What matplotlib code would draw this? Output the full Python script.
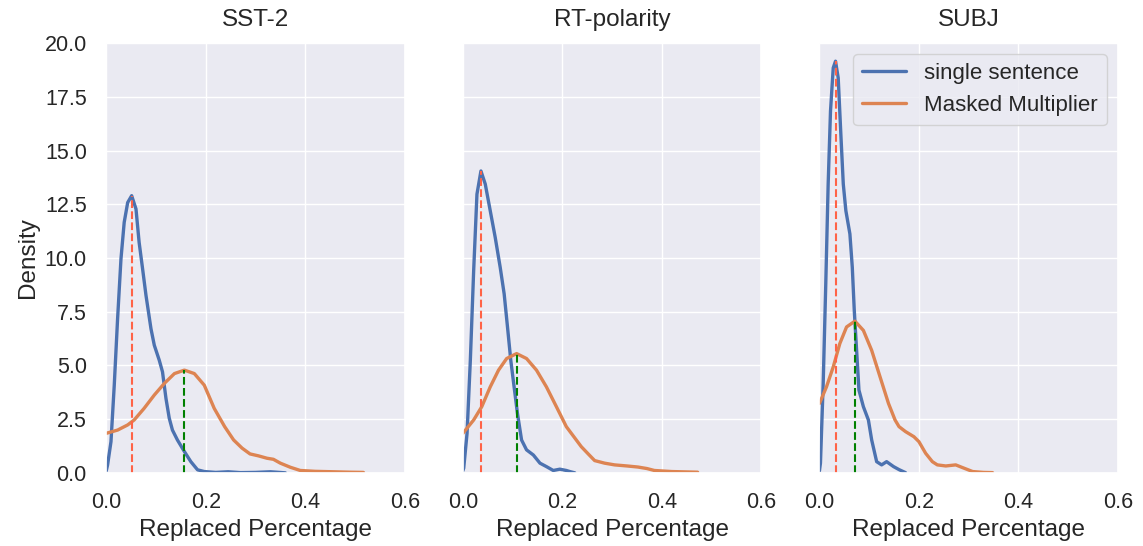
import matplotlib
matplotlib.use("Agg")
import matplotlib.pyplot as plt
import seaborn as sns

sns.set_theme(style="darkgrid")
plt.rcParams['font.family'] = ['Liberation Sans', 'DejaVu Sans']

titles = ['SST-2', 'RT-polarity', 'SUBJ']
labels = ['single sentence', 'Masked Multiplier']

# density curves (x = replaced percentage, y = density)
sst_single_x = [0.0, 0.0026, 0.0094, 0.016, 0.0227, 0.0295, 0.036, 0.043, 0.051, 0.0597, 0.066, 0.073,
                0.0798, 0.0898, 0.0965, 0.1065, 0.113, 0.12, 0.1266, 0.133, 0.143, 0.157, 0.170, 0.1835,
                0.197, 0.22, 0.245, 0.27, 0.30, 0.33, 0.36]
sst_single_y = [0.1, 0.37, 1.45, 4.08, 7.17, 9.96, 11.66, 12.58, 12.9, 12.28, 10.73, 9.49,
                8.26, 6.71, 5.94, 5.24, 4.7, 3.46, 2.54, 1.99, 1.53, 0.99, 0.52, 0.14,
                0.06, 0.02, 0.05, 0.01, 0.02, 0.05, 0.0]
sst_mm_x = [0.0, 0.0227, 0.043, 0.056, 0.076, 0.0965, 0.1166, 0.137, 0.157, 0.177, 0.197, 0.217,
            0.238, 0.256, 0.273, 0.289, 0.306, 0.323, 0.336, 0.350, 0.37, 0.39, 0.42, 0.456, 0.49, 0.517]
sst_mm_y = [1.84, 1.99, 2.23, 2.46, 3.0, 3.62, 4.16, 4.62, 4.78, 4.62, 4.08, 3.0,
            2.15, 1.53, 1.15, 0.88, 0.79, 0.68, 0.63, 0.45, 0.26, 0.11, 0.07, 0.05, 0.03, 0.02]

rt_single_x = [0.0, 0.0017, 0.0084, 0.015, 0.0217, 0.0283, 0.0363, 0.045, 0.055, 0.065, 0.075, 0.083,
               0.0897, 0.0963, 0.103, 0.1097, 0.118, 0.128, 0.1417, 0.155, 0.168, 0.1817, 0.195, 0.208,
               0.215, 0.225]
rt_single_y = [0.1, 0.22, 1.84, 5.24, 9.42, 12.97, 14.05, 13.44, 12.2, 10.96, 9.57, 8.33,
               6.79, 5.24, 4.0, 2.77, 1.53, 1.07, 0.83, 0.45, 0.29, 0.11, 0.17, 0.11,
               0.06, 0.0]
rt_mm_x = [0.0, 0.0217, 0.038, 0.055, 0.0717, 0.088, 0.108, 0.128, 0.148, 0.168, 0.188, 0.208,
           0.238, 0.252, 0.265, 0.285, 0.305, 0.33, 0.352, 0.37, 0.385, 0.42, 0.472]
rt_mm_y = [1.84, 2.46, 3.08, 4.0, 4.78, 5.32, 5.55, 5.32, 4.78, 4.0, 3.08, 2.15,
           1.22, 0.88, 0.57, 0.45, 0.37, 0.32, 0.27, 0.2, 0.11, 0.06, 0.03]

subj_single_x = [0.0, 0.002, 0.0075, 0.0127, 0.0175, 0.0222, 0.0277, 0.0323, 0.0377, 0.043, 0.0479, 0.0531,
                 0.0612, 0.066, 0.070, 0.0747, 0.0794, 0.0883, 0.0984, 0.105, 0.115, 0.125, 0.135, 0.149,
                 0.16, 0.173]
subj_single_y = [0.1, 0.45, 4.16, 8.8, 13.44, 16.84, 18.85, 19.16, 18.38, 15.76, 13.44, 12.2,
                 11.12, 9.57, 7.56, 5.7, 3.85, 3.08, 2.46, 1.53, 0.52, 0.37, 0.52, 0.29,
                 0.15, 0.01]
subj_mm_x = [0.0, 0.0141, 0.0277, 0.041, 0.0545, 0.0713, 0.0883, 0.105, 0.1218, 0.1388, 0.152, 0.16,
             0.173, 0.19, 0.2, 0.2135, 0.227, 0.237, 0.254, 0.274, 0.287, 0.308, 0.33, 0.348]
subj_mm_y = [3.23, 4.0, 4.93, 6.02, 6.79, 7.06, 6.63, 5.7, 4.47, 3.23, 2.46, 2.15,
             1.92, 1.68, 1.45, 0.91, 0.52, 0.37, 0.32, 0.37, 0.25, 0.06, 0.02, 0.01]

curves = [
    (sst_single_x, sst_single_y, sst_mm_x, sst_mm_y),
    (rt_single_x, rt_single_y, rt_mm_x, rt_mm_y),
    (subj_single_x, subj_single_y, subj_mm_x, subj_mm_y),
]

fig, axes = plt.subplots(1, 3, figsize=(11.43, 5.46), dpi=100, sharey=True)
fig.subplots_adjust(left=0.093, right=0.978, top=0.921, bottom=0.134, wspace=0.195)

blue = sns.color_palette()[0]
orange = sns.color_palette()[1]

for ax, title, (sx, sy, mx, my) in zip(axes, titles, curves):
    ax.plot(sx, sy, color=blue, lw=2.4, label=labels[0], solid_joinstyle='round')
    ax.plot(mx, my, color=orange, lw=2.4, label=labels[1], solid_joinstyle='round')
    # dashed lines at peaks
    i = sy.index(max(sy))
    ax.plot([sx[i], sx[i]], [0, sy[i]], color='tomato', ls='--', lw=1.5)
    j = my.index(max(my))
    ax.plot([mx[j], mx[j]], [0, my[j]], color='green', ls='--', lw=1.5)
    ax.set_xlim(0, 0.6)
    ax.set_ylim(0, 20)
    ax.set_xticks([0.0, 0.2, 0.4, 0.6])
    ax.set_yticks([0, 2.5, 5, 7.5, 10, 12.5, 15, 17.5, 20])
    ax.set_title(title, fontsize=17.5, pad=12)
    ax.set_xlabel('Replaced Percentage', fontsize=17.5)
    ax.tick_params(labelsize=15.5, pad=8)

axes[0].set_yticklabels(['%.1f' % v for v in [0, 2.5, 5, 7.5, 10, 12.5, 15, 17.5, 20]])
axes[0].set_ylabel('Density', fontsize=17.5)
axes[2].legend(loc='upper right', fontsize=16)

plt.savefig('out.png')
